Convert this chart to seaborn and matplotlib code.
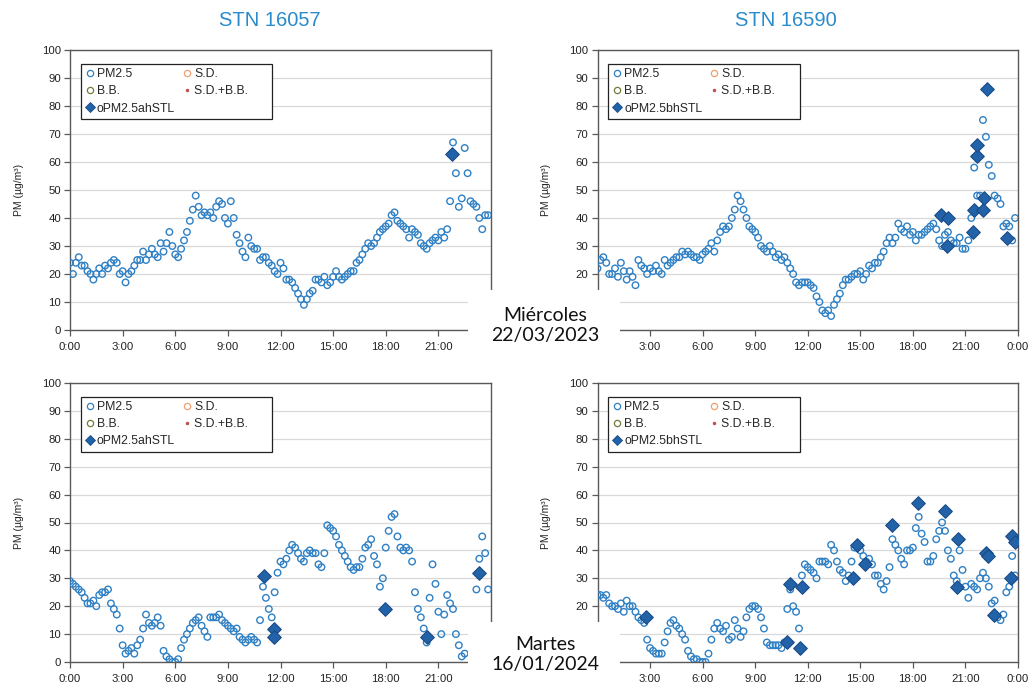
import numpy as np
import pandas as pd
import matplotlib
matplotlib.use("Agg")
import matplotlib.pyplot as plt
import seaborn as sns
from matplotlib.lines import Line2D
from matplotlib.patches import Rectangle

nan = np.nan

# ---------------- data (10-minute PM2.5 values, µg/m³) ----------------
titles = ["STN 16057", "STN 16590"]
day_labels = ["Miércoles\n22/03/2023", "Martes\n16/01/2024"]
legend_names = ["oPM2.5ahSTL", "oPM2.5bhSTL"]

pm_16057_2023 = [
    24, 20, 24, 26, 23, 23,   21, 20, 18, 20, 22, 20,   23, 22, 24, 25, 24, 20,
    21, 17, 20, 21, 23, 25,   25, 28, 25, 27, 29, 27,   26, 31, 28, 31, 35, 30,
    27, 26, 29, 32, 35, 39,   43, 48, 44, 41, 42, 41,   42, 40, 44, 46, 45, 40,
    38, 46, 40, 34, 31, 28,   26, 33, 30, 29, 29, 25,   26, 26, 24, 23, 21, 20,
    24, 22, 18, 18, 17, 15,   13, 11, 9, 11, 13, 14,    18, 18, 17, 19, 16, 17,
    19, 21, 19, 18, 19, 20,   21, 21, 24, 25, 27, 29,   31, 30, 31, 33, 35, 36,
    37, 38, 41, 42, 39, 38,   37, 36, 33, 36, 35, 34,   31, 30, 29, 31, 32, 33,
    32, 35, 33, 36, 46, 67,   56, 44, 47, 65, 56, 46,   45, 44, 40, 36, 41, 41,
]
pm_16590_2023 = [
    22, 25, 26, 24, 20, 20,   22, 19, 24, 21, 18, 21,   19, 16, 25, 23, 22, 20,
    22, 21, 23, 21, 20, 25,   23, 24, 25, 26, 26, 28,   27, 28, 27, 26, 26, 25,
    27, 28, 29, 31, 28, 32,   35, 37, 36, 37, 40, 43,   48, 46, 43, 40, 37, 36,
    35, 33, 30, 29, 28, 30,   28, 26, 27, 25, 26, 24,   22, 20, 17, 16, 17, 17,
    17, 16, 15, 12, 10, 7,    6, 7, 5, 9, 11, 13,       16, 18, 18, 19, 20, 20,
    21, 18, 20, 23, 22, 24,   24, 26, 28, 31, 33, 31,   33, 38, 36, 35, 37, 34,
    35, 32, 34, 34, 35, 36,   37, 38, 36, 32, 30, 34,   35, 32, 31, 31, 33, 29,
    29, 32, 40, 58, 48, 48,   75, 69, 59, 55, 48, 47,   45, 37, 38, 37, 32, 40,
]
pm_16057_2024 = [
    29, 28, 27, 26, 25, 23,   21, 21, 22, 20, 24, 25,   25, 26, 21, 19, 17, 12,
    6, 3, 4, 5, 3, 6,         8, 12, 17, 14, 13, 14,   16, 13, 4, 2, 1, 0,
    0, 1, 5, 8, 10, 12,       14, 15, 16, 13, 11, 9,   16, 16, 16, 17, 15, 14,
    13, 12, 11, 12, 9, 8,     7, 8, 9, 8, 7, 15,       27, 23, 19, 16, 25, 32,
    36, 35, 37, 40, 42, 41,   39, 37, 36, 39, 40, 39,  39, 35, 34, 39, 49, 48,
    47, 45, 42, 40, 38, 36,   34, 33, 34, 34, 37, 41,  42, 44, 38, 35, 27, 30,
    41, 47, 52, 53, 45, 41,   40, 41, 40, 36, 25, 19,  16, 12, 7, 23, 35, 28,
    18, 10, 17, 24, 21, 19,   10, 6, 2, 3, nan, nan,   nan, 26, 37, 45, 39, 26,
]
pm_16590_2024 = [
    24, 24, 23, 24, 21, 20,   20, 19, 21, 18, 22, 20,   20, 18, 16, 15, 14, 8,
    5, 4, 3, 3, 3, 7,         11, 14, 15, 13, 12, 10,  8, 4, 2, 1, 1, 0,
    0, 0, 3, 8, 12, 14,       12, 11, 13, 8, 9, 15,    12, 9, 11, 16, 19, 20,
    20, 19, 16, 12, 7, 6,     6, 6, 6, 5, 7, 19,       26, 20, 18, 12, 31, 35,
    34, 33, 32, 30, 36, 36,   36, 35, 42, 40, 36, 33,  32, 29, 31, 36, 41, 41,
    40, 38, 36, 37, 35, 31,   31, 28, 26, 29, 34, 44,  42, 40, 37, 35, 40, 40,
    41, 48, 52, 46, 43, 36,   36, 38, 44, 47, 50, 47,  40, 37, 31, 29, 40, 33,
    27, 23, 28, 27, 26, 30,   32, 30, 27, 21, 22, 16,  15, 17, 25, 27, 38, 31,
]

# STL outliers (hour of day, value)
stl_16057_2023_t = [21.75]
stl_16057_2023_v = [63]
stl_16590_2023_t = [19.61, 19.95, 20.03, 21.43, 21.51, 21.66, 21.66, 21.98, 22.07, 22.22, 23.36]
stl_16590_2023_v = [41, 30, 40, 35, 43, 62, 66, 43, 47, 86, 33]
stl_16057_2024_t = [11.04, 11.63, 11.63, 17.93, 20.36, 23.34]
stl_16057_2024_v = [31, 12, 9, 19, 9, 32]
stl_16590_2024_t = [2.75, 10.82, 11.0, 11.57, 11.67, 14.61, 14.80, 15.24, 16.79, 18.31,
                    19.83, 20.49, 20.59, 22.16, 22.26, 22.64, 23.62, 23.68, 23.81]
stl_16590_2024_v = [16, 7, 28, 5, 27, 30, 42, 35, 49, 57, 54, 27, 44, 39, 38, 17, 30, 45, 43]

x_ticks = [0, 3, 6, 9, 12, 15, 18, 21, 24]
x_tick_labels_left = ["0:00", "3:00", "6:00", "9:00", "12:00", "15:00", "18:00", "21:00", ""]
x_tick_labels_right = ["", "3:00", "6:00", "9:00", "12:00", "15:00", "18:00", "21:00", "0:00"]
y_ticks = list(range(0, 101, 10))
y_tick_labels_left = [str(v) for v in y_ticks]
y_tick_labels_right = ["", ""] + [str(v) for v in y_ticks[2:]]

# ---------------- style ----------------
BLUE = "#2F80C4"
DIAMOND = "#2262A8"
DIAMOND_EDGE = "#1A4C86"
SPINE = "#595959"
TITLE_C = "#2A8BCC"

sns.set_style("white")
plt.rcParams["font.family"] = ["Liberation Sans", "DejaVu Sans"]

fig = plt.figure(figsize=(10.32, 6.84), dpi=100)

W, H = 1032, 684
def fpos(l, t, r, b):
    return [l / W, 1 - b / H, (r - l) / W, (b - t) / H]

positions = [fpos(70, 50, 491, 330), fpos(597.5, 50, 1018, 330),
             fpos(70, 383, 491, 662), fpos(597.5, 383, 1018, 662)]

panels = [
    (pm_16057_2023, stl_16057_2023_t, stl_16057_2023_v, legend_names[0], "left"),
    (pm_16590_2023, stl_16590_2023_t, stl_16590_2023_v, legend_names[1], "right"),
    (pm_16057_2024, stl_16057_2024_t, stl_16057_2024_v, legend_names[0], "left"),
    (pm_16590_2024, stl_16590_2024_t, stl_16590_2024_v, legend_names[1], "right"),
]

for pos, (pm, st_t, st_v, lname, side) in zip(positions, panels):
    ax = fig.add_axes(pos)
    df = pd.DataFrame({"t": np.arange(len(pm)) / 6.0, "pm": pm})
    sns.scatterplot(data=df, x="t", y="pm", ax=ax, marker="o", s=22,
                    color=BLUE, facecolors="none", edgecolor=BLUE,
                    linewidth=1.0, zorder=3, legend=False)
    dd = pd.DataFrame({"t": st_t, "v": st_v})
    sns.scatterplot(data=dd, x="t", y="v", ax=ax, marker="D", s=48,
                    color=DIAMOND, edgecolor=DIAMOND_EDGE, linewidth=0.8,
                    zorder=4, legend=False)
    ax.set_xlim(0, 24)
    ax.set_ylim(0, 100)
    ax.set_xticks(x_ticks)
    ax.set_xticklabels(x_tick_labels_left if side == "left" else x_tick_labels_right)
    ax.set_yticks(y_ticks)
    ax.set_yticklabels(y_tick_labels_left if side == "left" else y_tick_labels_right)
    ax.set_xlabel("")
    ax.set_ylabel("PM (µg/m³)", fontsize=7.5, color="#222222", labelpad=13)
    ax.yaxis.grid(True, color="#D9D9D9", linewidth=0.9)
    ax.xaxis.grid(False)
    ax.set_axisbelow(True)
    for sp in ax.spines.values():
        sp.set_visible(True)
        sp.set_color(SPINE)
        sp.set_linewidth(1.0)
    ax.tick_params(axis="both", which="major", direction="out", length=4,
                   width=0.9, color=SPINE, labelsize=8.2, labelcolor="#222222", pad=2.5)
    ax.tick_params(axis="x", length=4, pad=5)
    ax.tick_params(left=True, bottom=True)

    handles = [
        Line2D([], [], ls="", marker="o", ms=4.5, mfc="none", mec=BLUE, mew=0.9),
        Line2D([], [], ls="", marker="o", ms=4.5, mfc="none", mec="#6F7F3A", mew=0.9),
        Line2D([], [], ls="", marker="D", ms=5, mfc=DIAMOND, mec=DIAMOND_EDGE, mew=0.6),
        Line2D([], [], ls="", marker="o", ms=4.5, mfc="none", mec="#F0A070", mew=0.9),
        Line2D([], [], ls="", marker=".", ms=3, color="#C0504D"),
    ]
    labels = ["PM2.5", "B.B.", lname, "S.D.", "S.D.+B.B.      "]
    leg = ax.legend(handles, labels, ncol=2, loc="upper left",
                    bbox_to_anchor=(0.026, 0.95), borderaxespad=0,
                    fontsize=8.8, frameon=True, fancybox=False,
                    handlelength=0.7, handletextpad=0.25, columnspacing=0.6,
                    labelspacing=0.42, borderpad=0.35)
    fr = leg.get_frame()
    fr.set_edgecolor("#222222")
    fr.set_linewidth(0.9)
    fr.set_alpha(1)

# titles
fig.text(270 / W, 1 - 20 / H, titles[0], ha="center", va="center",
         fontsize=14.5, color=TITLE_C)
fig.text(786 / W, 1 - 20 / H, titles[1], ha="center", va="center",
         fontsize=14.5, color=TITLE_C)

# overlay date boxes
for (top, bot, yc), label in zip([(290, 356, 325.5), (622, 684, 654.5)], day_labels):
    fig.add_artist(Rectangle((468 / W, 1 - bot / H), (620 - 468) / W, (bot - top) / H,
                             transform=fig.transFigure, facecolor="white",
                             edgecolor="none", zorder=20))
    fig.text(545 / W, 1 - yc / H, label, ha="center", va="center",
             fontsize=14, color="#111111", family=["Lato", "DejaVu Sans"],
             linespacing=1.2, zorder=21)

fig.savefig("out.png", dpi=100)
